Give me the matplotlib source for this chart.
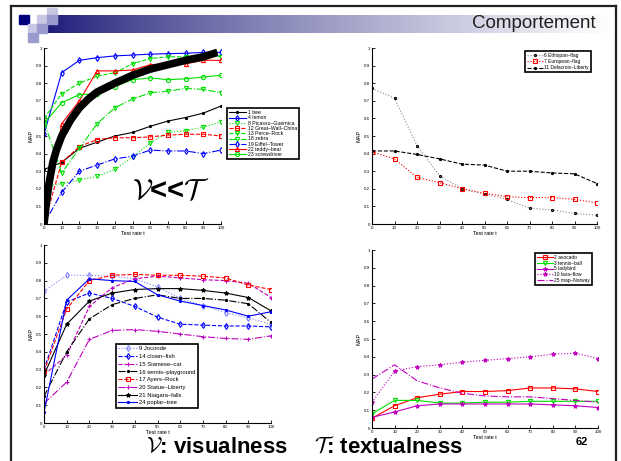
import numpy as np
import matplotlib.pyplot as plt
from matplotlib.patches import Rectangle

plt.rcParams.update(
    {
        "font.family": ["Liberation Sans", "DejaVu Sans"],
        "mathtext.fontset": "cm",
        "axes.linewidth": 0.8,
        "xtick.direction": "in",
        "ytick.direction": "in",
        "xtick.major.size": 2,
        "ytick.major.size": 2,
        "xtick.major.width": 0.6,
        "ytick.major.width": 0.6,
        "xtick.labelsize": 3.2,
        "ytick.labelsize": 3.2,
        "axes.labelsize": 4,
    }
)

W, H = 621, 461
t = [0, 10, 20, 30, 40, 50, 60, 70, 80, 90, 100]

# top-left panel: visual concepts
tl_names = ["1 bee", "4 lemon", "8 Picasso\u2013Guernica", "12 Great\u2013Wall\u2013China",
            "13 Perce\u2013Rock", "18 zebra", "19 Eiffel\u2013Tower", "22 teddy\u2013bear",
            "23 screwdriver"]
tl_vals = [
    [0.31, 0.35, 0.43, 0.465, 0.50, 0.52, 0.555, 0.585, 0.605, 0.63, 0.67],
    [0.51, 0.86, 0.93, 0.945, 0.955, 0.96, 0.965, 0.968, 0.97, 0.975, 0.975],
    [0.21, 0.23, 0.25, 0.27, 0.31, 0.38, 0.46, 0.52, 0.53, 0.55, 0.58],
    [0.0, 0.35, 0.44, 0.48, 0.49, 0.49, 0.495, 0.505, 0.51, 0.51, 0.50],
    [0.60, 0.74, 0.80, 0.84, 0.86, 0.91, 0.94, 0.95, 0.95, 0.96, 0.95],
    [0.58, 0.29, 0.43, 0.57, 0.66, 0.71, 0.745, 0.755, 0.77, 0.765, 0.745],
    [0.0, 0.18, 0.30, 0.335, 0.37, 0.385, 0.42, 0.415, 0.415, 0.40, 0.42],
    [0.0, 0.57, 0.70, 0.87, 0.87, 0.875, 0.905, 0.91, 0.91, 0.93, 0.93],
    [0.57, 0.69, 0.735, 0.74, 0.78, 0.82, 0.83, 0.82, 0.825, 0.835, 0.845],
]
tl_styles = [("k", "-", "."), ("b", "-", "d"), ("#00e000", ":", "v"), ("r", "--", "s"),
             ("#00e000", "--", "v"), ("#00e000", "-.", "v"), ("b", "-.", "d"),
             ("r", "-", "^"), ("#00e000", "-", "o")]

# thick trend curve drawn over the top-left panel
trend_x = [0, 1, 2, 3, 5, 7, 10, 15, 20, 25, 30, 40, 50, 60, 70, 80, 90, 98]
trend_y = [0.0, 0.09, 0.17, 0.24, 0.35, 0.42, 0.50, 0.59, 0.66, 0.71, 0.75,
           0.80, 0.845, 0.88, 0.905, 0.93, 0.95, 0.975]

# top-right panel
tr_names = ["6 Ethiopan\u2013flag", "7 European\u2013flag", "11 Delacroix\u2013Liberty"]
tr_vals = [
    [0.77, 0.715, 0.445, 0.275, 0.20, 0.17, 0.14, 0.09, 0.08, 0.06, 0.05],
    [0.41, 0.37, 0.265, 0.235, 0.20, 0.175, 0.155, 0.15, 0.15, 0.14, 0.12],
    [0.415, 0.415, 0.395, 0.37, 0.34, 0.335, 0.30, 0.30, 0.29, 0.285, 0.23],
]
tr_styles = [("#888888", ":", "."), ("r", ":", "s"), ("k", "--", ".")]

# bottom-left panel
bl_names = ["9 Joconde", "14 clown\u2013fish", "15 Siamese\u2013cat", "16 tennis\u2013playground",
            "17 Ayers\u2013Rock", "20 Statue\u2013Liberty", "21 Niagara\u2013falls", "24 poplar\u2013tree"]
bl_vals = [
    [0.74, 0.83, 0.83, 0.825, 0.81, 0.765, 0.70, 0.66, 0.62, 0.59, 0.555],
    [0.30, 0.68, 0.73, 0.70, 0.655, 0.595, 0.555, 0.55, 0.545, 0.545, 0.54],
    [0.27, 0.38, 0.655, 0.76, 0.81, 0.825, 0.815, 0.805, 0.80, 0.785, 0.705],
    [0.15, 0.40, 0.585, 0.665, 0.70, 0.72, 0.70, 0.70, 0.69, 0.67, 0.565],
    [0.29, 0.64, 0.80, 0.83, 0.835, 0.83, 0.83, 0.825, 0.815, 0.775, 0.75],
    [0.11, 0.23, 0.47, 0.52, 0.525, 0.515, 0.50, 0.485, 0.475, 0.47, 0.49],
    [0.27, 0.555, 0.685, 0.73, 0.75, 0.755, 0.755, 0.745, 0.73, 0.705, 0.63],
    [0.06, 0.69, 0.81, 0.80, 0.795, 0.72, 0.685, 0.66, 0.635, 0.60, 0.625],
]
bl_styles = [("#8080ff", ":", "d"), ("b", "--", "d"), ("m", "--", "+"), ("k", "-.", "."),
             ("r", "--", "s"), ("m", "-.", "+"), ("k", "-", "*"), ("b", "-", ".")]

# bottom-right panel: textual concepts
br_names = ["2 avocado", "3 tennis\u2013ball", "5 ladybird", "10 lava\u2013flow", "25 map\u2013Norway"]
br_vals = [
    [0.055, 0.125, 0.17, 0.19, 0.205, 0.205, 0.21, 0.225, 0.225, 0.22, 0.205],
    [0.08, 0.155, 0.155, 0.14, 0.14, 0.145, 0.145, 0.15, 0.15, 0.15, 0.15],
    [0.06, 0.09, 0.125, 0.135, 0.135, 0.135, 0.135, 0.135, 0.13, 0.125, 0.115],
    [0.145, 0.32, 0.345, 0.355, 0.37, 0.38, 0.39, 0.40, 0.415, 0.42, 0.39],
    [0.275, 0.355, 0.265, 0.225, 0.195, 0.18, 0.175, 0.175, 0.165, 0.155, 0.145],
]
br_styles = [("r", "-", "s"), ("#00e000", "-", "v"), ("m", "-", "*"), ("m", ":", "*"),
             ("m", "-.", "")]

fig = plt.figure(figsize=(W / 100, H / 100), dpi=100)

# slide decoration (pixel coordinates)
bg = fig.add_axes([0, 0, 1, 1], zorder=-5)
bg.set_xlim(0, W)
bg.set_ylim(H, 0)
bg.axis("off")
grad = np.linspace(0, 1, 256)[None, :]
bar = np.zeros((1, 256, 3))
c0 = np.array([26, 26, 120]) / 255
for k in range(3):
    bar[0, :, k] = c0[k] + (1 - c0[k]) * grad[0] ** 0.8
bg.imshow(bar, extent=(47, 612, 33, 15), aspect="auto", zorder=1)
squares = [(19, 15, "#00007f"), (37, 15, "#c8c8e4"), (47, 8, "#c8c8e4"),
           (47, 15, "#9a9acc"), (28, 24, "#c8c8e4"), (37, 24, "#9a9acc"), (28, 33, "#9a9acc")]
for sx, sy, sc in squares:
    bg.add_patch(Rectangle((sx, sy), 9.5, 9, color=sc, zorder=2))
bg.plot([11, 616], [6.5, 6.5], color="#202020", lw=1.6, zorder=3)
bg.plot([11, 11], [6.5, H], color="#202020", lw=1.6, zorder=3)
bg.plot([616, 616], [6.5, H], color="#202020", lw=1.6, zorder=3)
bg.text(596, 23, "Comportement", fontsize=13.5, ha="right", va="center", color="#202020", zorder=4)


def panel(x0, y0, x1, y1, names, vals, styles, leg_xy, fs, spacing):
    ax = fig.add_axes([x0 / W, 1 - y1 / H, (x1 - x0) / W, (y1 - y0) / H])
    for name, v, (c, ls, mk) in zip(names, vals, styles):
        mfc = "none" if mk in ("d", "v", "s", "^", "o") else c
        mec = "k" if c == "#888888" else c
        ax.plot(t, v, color=c, ls=ls, marker=mk, ms=3, mfc=mfc, mec=mec,
                mew=0.8, lw=0.8, label=name)
    ax.set_xlim(0, 100)
    ax.set_ylim(0, 1)
    ax.set_xticks(t)
    ax.set_yticks(np.arange(0, 1.01, 0.1))
    ax.set_yticklabels(["0"] + [f"{y:.1f}" for y in np.arange(0.1, 0.95, 0.1)] + ["1"])
    ax.tick_params(pad=1.5)
    ax.spines["top"].set_visible(False)
    ax.spines["right"].set_visible(False)
    ax.set_xlabel("Test rate t", labelpad=1)
    ax.set_ylabel("MAP", labelpad=2)
    leg = ax.legend(loc="upper left", bbox_to_anchor=(leg_xy[0] / W, 1 - leg_xy[1] / H),
                    bbox_transform=fig.transFigure, fontsize=fs, frameon=True,
                    fancybox=False, edgecolor="k", framealpha=1, handlelength=3.2,
                    labelspacing=spacing, borderpad=0.4, handletextpad=0.4,
                    borderaxespad=0)
    leg.get_frame().set_linewidth(1.2)
    return ax


ax1 = panel(44, 48, 221, 224, tl_names, tl_vals, tl_styles, (227, 108), 3.7, 0.05)
ax1.plot(trend_x, trend_y, color="k", lw=5.5, solid_capstyle="butt", zorder=5)
ax1.text(171, 191, r"$\mathcal{V}$<<$\mathcal{T}$", transform=bg.transData,
         fontsize=21, fontweight="bold", ha="center", va="center")

panel(372, 48, 597, 224, tr_names, tr_vals, tr_styles, (525, 51), 3.5, 0.25)
panel(44, 245, 271, 423, bl_names, bl_vals, bl_styles, (116, 344), 4.2, 0.45)
panel(372, 250, 598, 428, br_names, br_vals, br_styles, (535, 253), 3.5, 0.15)

bg.text(146, 447, r"$\mathcal{V}$: visualness", fontsize=16, fontweight="bold",
        ha="left", va="center", zorder=4)
bg.text(314, 447, r"$\mathcal{T}$: textualness", fontsize=16, fontweight="bold",
        ha="left", va="center", zorder=4)
bg.text(582, 442, "62", fontsize=8, fontweight="bold", ha="center", va="center", zorder=4)

fig.savefig("out.png", dpi=100)
